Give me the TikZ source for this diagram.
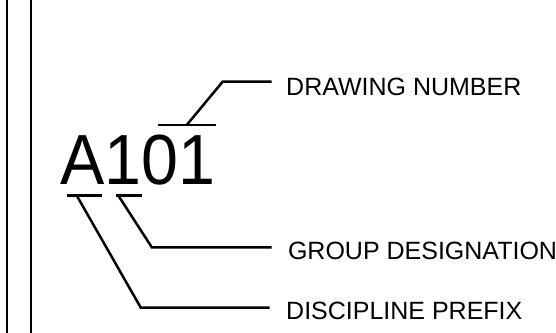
\documentclass[tikz,border=0pt]{standalone}
\usepackage{fontspec}
\setmainfont{Liberation Sans}
\begin{document}
\begin{tikzpicture}[x=1pt,y=-1pt,
  leader/.style={line width=2.5pt,line join=miter},
  border/.style={line width=2.6pt},
  lbl/.style={anchor=base west,inner sep=0pt,font=\fontsize{25}{25}\selectfont},
  big/.style={anchor=base west,inner sep=0pt,font=\fontsize{71}{71}\selectfont}]
\useasboundingbox (0,0) rectangle (556,332);
% border lines
\coordinate (b1t) at (7,-2); \coordinate (b1b) at (7,334);
\coordinate (b2t) at (31,-2); \coordinate (b2b) at (31,334);
\draw[border] (b1t) -- (b1b);
\draw[border] (b2t) -- (b2b);
% main text
\node[big] (num) at (60.3,184.3) {\scalebox{0.935}[1]{A101}};
% labels
\node[lbl] (dn) at (286,95.7) {DRAWING NUMBER};
\node[lbl] (gd) at (287.8,259.3) {GROUP DESIGNATION};
\node[lbl] (dp) at (286,319) {DISCIPLINE PREFIX};
% bars
\coordinate (ob1) at (158.3,125); \coordinate (ob2) at (216,125);
\coordinate (ua1) at (66.7,195.5); \coordinate (ua2) at (101.7,195.5);
\coordinate (u11) at (116,195.5); \coordinate (u12) at (142.3,195.5);
\draw[leader] (ob1) -- (ob2);
\draw[leader] (ua1) -- (ua2);
\draw[leader] (u11) -- (u12);
% leaders
\coordinate (dnS) at (186.7,125); \coordinate (dnK) at (222.7,81.7); \coordinate (dnE) at (271.5,81.7);
\draw[leader] (dnS) -- (dnK) -- (dnE);
\coordinate (gdS) at (118.3,195.5); \coordinate (gdK) at (151.8,247.3); \coordinate (gdE) at (271.5,247.3);
\draw[leader] (gdS) -- (gdK) -- (gdE);
\coordinate (dpS) at (76.7,195.5); \coordinate (dpK) at (140.8,307.7); \coordinate (dpE) at (269.5,307.7);
\draw[leader] (dpS) -- (dpK) -- (dpE);
\end{tikzpicture}
\end{document}
